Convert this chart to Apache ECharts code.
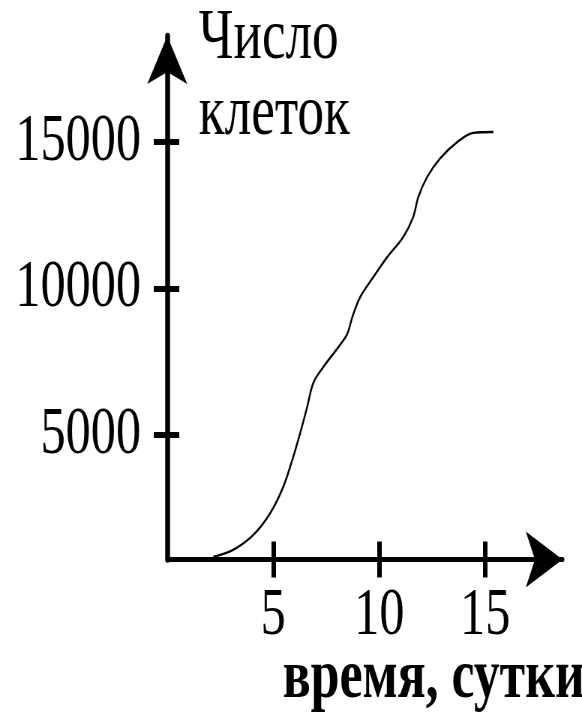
<!DOCTYPE html>
<html>
<head>
<meta charset="utf-8">
<script src="https://cdn.jsdelivr.net/npm/echarts@6/dist/echarts.min.js"></script>
<style>
html,body{margin:0;padding:0;background:#fff;overflow:hidden;}
#main{width:776px;height:715px;transform:scaleX(0.75);transform-origin:0 0;}
</style>
</head>
<body>
<div id="main"></div>
<script>
// Data
const days  = [2.17, 3.11, 4.06, 4.86, 5.47, 5.94, 6.27, 6.60, 6.89, 7.36, 8.07, 8.49, 8.73, 9.10, 9.72, 10.38, 11.13, 11.60, 11.84, 12.26, 12.88, 13.68, 14.43, 15.38];
const cells = [840, 1080, 1590, 2340, 3230, 4250, 5070, 5960, 6780, 7320, 8000, 8450, 9030, 9710, 10390, 11080, 11760, 12440, 13120, 13810, 14450, 15000, 15310, 15340];
const xTicks = [5, 10, 15];
const yTicks = [5000, 10000, 15000];
const yTitle = 'Число\nклеток';
const xTitle = 'время, сутки';

const points = days.map((d, i) => [d, cells[i]]);
const FONT = 'Liberation Serif';
const xMin = 0, xMax = 18.64, yMin = 750, yMax = 18618;
const GL = 223, GR = 26, GT = 36, GB = 155.5;

const chart = echarts.init(document.getElementById('main'));
chart.setOption({
  animation: false,
  backgroundColor: '#fff',
  grid: {left: GL, right: GR, top: GT, bottom: GB},
  title: [
    {text: yTitle, left: 265, top: 1, padding: 0,
     textStyle: {fontFamily: FONT, fontSize: 71, fontWeight: 'normal', lineHeight: 76, color: '#000'}},
    {text: xTitle, left: 377, top: 645, padding: 0,
     textStyle: {fontFamily: FONT, fontSize: 69, fontWeight: 'bold', lineHeight: 69, color: '#000'}}
  ],
  xAxis: [
    {type: 'value', min: xMin, max: xMax, position: 'bottom',
     axisLine: {show: true, onZero: false, symbol: ['none', 'arrow'], symbolSize: [42, 49],
                lineStyle: {color: '#000', width: 5}},
     axisTick: {show: true, customValues: xTicks, length: 18, inside: false, lineStyle: {color: '#000', width: 6}},
     axisLabel: {show: true, customValues: xTicks, margin: 23, fontFamily: FONT, fontSize: 67, lineHeight: 67, color: '#000'},
     splitLine: {show: false}},
    {type: 'value', min: xMin, max: xMax, position: 'bottom',
     axisLine: {show: true, onZero: false, lineStyle: {color: '#000', width: 0, opacity: 0}},
     axisTick: {show: true, customValues: xTicks, length: 18, inside: true, lineStyle: {color: '#000', width: 6, opacity: 1}},
     axisLabel: {show: false},
     splitLine: {show: false}}
  ],
  yAxis: [
    {type: 'value', min: yMin, max: yMax, position: 'left',
     axisLine: {show: true, onZero: false, symbol: ['none', 'arrow'], symbolSize: [40, 48],
                lineStyle: {color: '#000', width: 6.5}},
     axisTick: {show: true, customValues: yTicks, length: 18, inside: false, lineStyle: {color: '#000', width: 6}},
     axisLabel: {show: true, customValues: yTicks, margin: 35, fontFamily: FONT, fontSize: 67, lineHeight: 67, color: '#000',
                 formatter: v => String(v)},
     splitLine: {show: false}},
    {type: 'value', min: yMin, max: yMax, position: 'left',
     axisLine: {show: true, onZero: false, lineStyle: {color: '#000', width: 0, opacity: 0}},
     axisTick: {show: true, customValues: yTicks, length: 16, inside: true, lineStyle: {color: '#000', width: 6, opacity: 1}},
     axisLabel: {show: false},
     splitLine: {show: false}}
  ],
  series: [{
    type: 'line',
    xAxisIndex: 0, yAxisIndex: 0,
    data: points,
    smooth: 0.35,
    showSymbol: false,
    lineStyle: {color: '#000', width: 2.4}
  }]
});
</script>
</body>
</html>
